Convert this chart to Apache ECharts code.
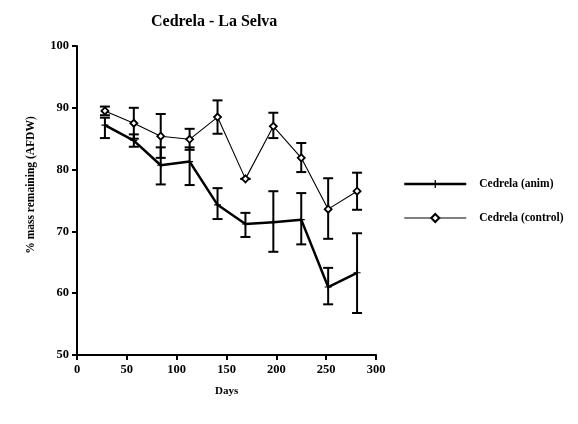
<!DOCTYPE html>
<html><head><meta charset="utf-8">
<script src="https://cdn.jsdelivr.net/npm/echarts@6/dist/echarts.min.js"></script>
<style>html,body{margin:0;padding:0;background:#fff}#c{width:578px;height:424px}</style>
</head><body><div id="c"></div>
<script>
const days = [28, 57, 84, 113, 141, 169, 197, 225, 252, 281];
const animMean = [87.2, 84.7, 80.7, 81.3, 74.3, 71.2, 71.5, 71.9, 61.0, 63.3];
const animLow  = [85.1, 83.7, 77.6, 77.5, 72.0, 69.1, 66.7, 67.9, 58.2, 56.8];
const animHigh = [88.4, 85.7, 83.6, 83.6, 77.0, 73.0, 76.5, 76.2, 64.1, 69.7];
const ctrlMean = [89.5, 87.5, 85.4, 84.9, 88.5, 78.5, 87.0, 81.9, 73.6, 76.5];
const ctrlLow  = [88.8, 85.0, 81.9, 83.2, 85.8, 78.5, 85.1, 79.6, 68.8, 73.5];
const ctrlHigh = [90.2, 90.0, 89.0, 86.6, 91.2, 78.5, 89.2, 84.3, 78.6, 79.5];
const yTicks = [50, 60, 70, 80, 90, 100];
const xTicks = [0, 50, 100, 150, 200, 250, 300];
const seriesNames = ['Cedrela (anim)', 'Cedrela (control)'];

const serif = '"Liberation Serif","DejaVu Serif",serif';
const crossPath = 'path://M-0.8,-5 L0.8,-5 L0.8,-0.8 L5,-0.8 L5,0.8 L0.8,0.8 L0.8,5 L-0.8,5 L-0.8,0.8 L-5,0.8 L-5,-0.8 L-0.8,-0.8 Z';

function errData(low, high) {
  return days.map((d, i) => [d, low[i], high[i]]);
}
function errRender(params, api) {
  const x = api.value(0);
  const lo = api.coord([x, api.value(1)]);
  const hi = api.coord([x, api.value(2)]);
  const hw = 5;
  const st = {stroke: '#000', lineWidth: 2};
  return {type: 'group', children: [
    {type: 'line', shape: {x1: lo[0], y1: lo[1], x2: hi[0], y2: hi[1]}, style: st},
    {type: 'line', shape: {x1: lo[0]-hw, y1: lo[1], x2: lo[0]+hw, y2: lo[1]}, style: st},
    {type: 'line', shape: {x1: hi[0]-hw, y1: hi[1], x2: hi[0]+hw, y2: hi[1]}, style: st}
  ]};
}

const chart = echarts.init(document.getElementById('c'));
chart.setOption({
  animation: false,
  backgroundColor: '#fff',
  title: {text: 'Cedrela - La Selva', left: 146, top: 9,
    textStyle: {fontFamily: serif, fontWeight: 'bold', fontSize: 16, color: '#000'}},
  grid: {left: 77, right: 202, top: 46, bottom: 69},
  legend: {
    orient: 'vertical', left: 398, top: 173, itemWidth: 62, itemHeight: 10, itemGap: 22,
    data: [
      {name: seriesNames[0], lineStyle: {width: 2.5}},
      {name: seriesNames[1], lineStyle: {width: 1}}
    ],
    textStyle: {fontFamily: serif, fontWeight: 'bold', fontSize: 11.5, color: '#000', padding: [0,0,0,8]}
  },
  xAxis: {
    type: 'value', min: 0, max: 300, interval: 50,
    axisLine: {lineStyle: {color: '#000', width: 2}},
    axisTick: {show: true, inside: false, length: 5, lineStyle: {color: '#000', width: 2}},
    axisLabel: {color: '#000', fontFamily: serif, fontWeight: 'bold', fontSize: 12.5, margin: 8},
    splitLine: {show: false}
  },
  yAxis: {
    type: 'value', min: 50, max: 100, interval: 10,
    axisLine: {show: true, lineStyle: {color: '#000', width: 2}},
    axisTick: {show: true, inside: false, length: 5, lineStyle: {color: '#000', width: 2}},
    axisLabel: {color: '#000', fontFamily: serif, fontWeight: 'bold', fontSize: 12.5, margin: 8},
    splitLine: {show: false}
  },
  graphic: [
    {type: 'text', left: 215, top: 386, style: {text: 'Days', fontFamily: serif, fontWeight: 'bold', fontSize: 11, fill: '#000'}},
    {type: 'text', x: 31, y: 185, rotation: Math.PI/2, style: {text: '% mass remaining (AFDW)', fontFamily: serif, fontWeight: 'bold', fontSize: 11.5, fill: '#000', align: 'center', verticalAlign: 'middle'}}
  ],
  series: [
    {name: seriesNames[0], type: 'line', data: days.map((d, i) => [d, animMean[i]]),
      symbol: crossPath, symbolSize: 7, showAllSymbol: true,
      lineStyle: {color: '#000', width: 2.5}, itemStyle: {color: '#000'}, z: 3},
    {name: seriesNames[1], type: 'line', data: days.map((d, i) => [d, ctrlMean[i]]),
      symbol: 'diamond', symbolSize: 7, showAllSymbol: true,
      lineStyle: {color: '#000', width: 1.1}, itemStyle: {color: '#fff', borderColor: '#000', borderWidth: 1.8}, z: 4},
    {type: 'custom', renderItem: errRender, data: errData(animLow, animHigh), z: 2, silent: true},
    {type: 'custom', renderItem: errRender, data: errData(ctrlLow, ctrlHigh), z: 2, silent: true}
  ]
});
</script></body></html>
